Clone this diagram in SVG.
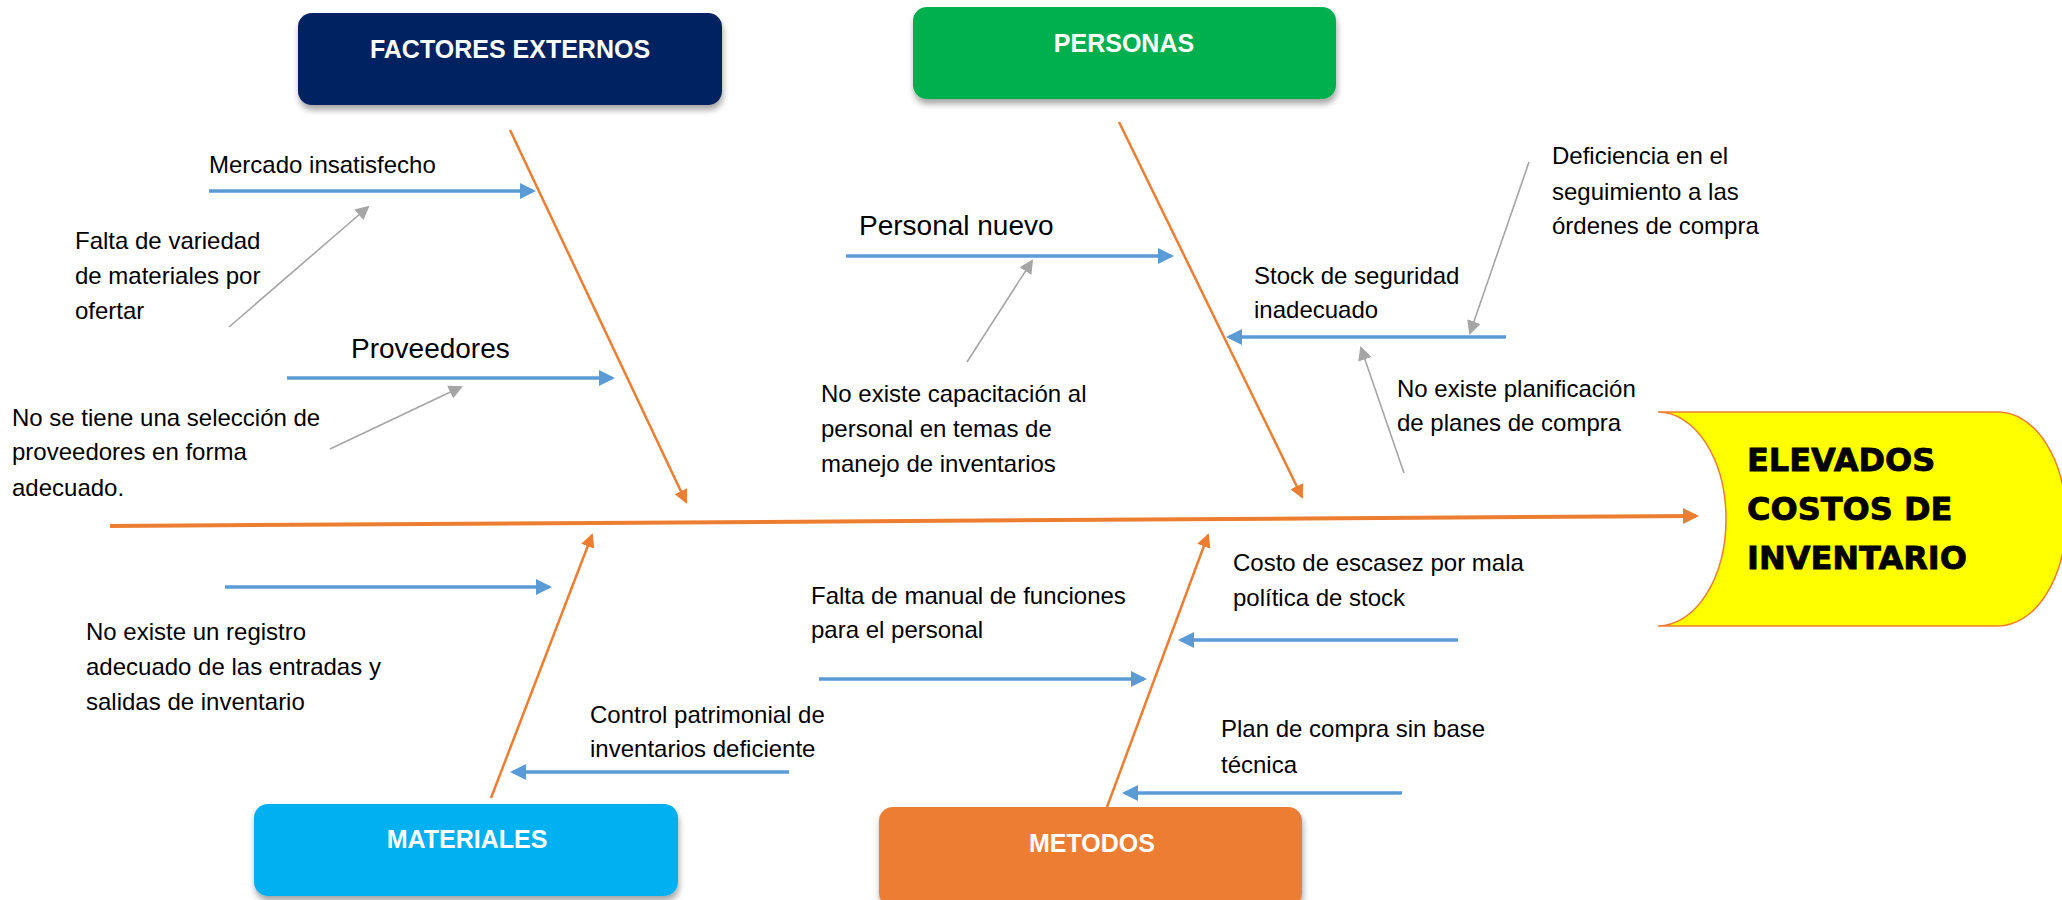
<svg xmlns="http://www.w3.org/2000/svg" width="2062" height="900" viewBox="0 0 2062 900">
<style>
.t{font-family:"Liberation Sans",Arial,sans-serif;font-size:24px;fill:#000}
.tb{font-family:"Liberation Sans",Arial,sans-serif;font-size:28px;fill:#000}
.hd{font-family:"Liberation Sans",Arial,sans-serif;font-size:25px;font-weight:bold;fill:#fff;text-anchor:middle}
.eff{font-family:"DejaVu Sans",Verdana,sans-serif;font-size:32px;font-weight:bold;fill:#000;stroke:#000;stroke-width:0.8}
.or{stroke:#ED7D31;stroke-width:2.5;fill:none;marker-end:url(#ao)}
.bl{stroke:#5B9BD5;stroke-width:3.5;fill:none;marker-end:url(#ab)}
.gr{stroke:#A5A5A5;stroke-width:1.6;fill:none;marker-end:url(#ag)}
</style>
<defs>
<marker id="ab" markerUnits="userSpaceOnUse" viewBox="0 0 16 16" markerWidth="16" markerHeight="16" refX="13" refY="8" orient="auto"><path d="M0,0 L16,8 L0,16 z" fill="#5B9BD5"/></marker>
<marker id="ao" markerUnits="userSpaceOnUse" viewBox="0 0 14 14" markerWidth="14" markerHeight="14" refX="12" refY="7" orient="auto"><path d="M0,0 L14,7 L0,14 z" fill="#ED7D31"/></marker>
<marker id="aos" markerUnits="userSpaceOnUse" viewBox="0 0 16 16" markerWidth="16" markerHeight="16" refX="13" refY="8" orient="auto"><path d="M0,0 L16,8 L0,16 z" fill="#ED7D31"/></marker>
<marker id="ag" markerUnits="userSpaceOnUse" viewBox="0 0 14 14" markerWidth="14" markerHeight="14" refX="12" refY="7" orient="auto"><path d="M0,0 L14,7 L0,14 z" fill="#A5A5A5"/></marker>
<filter id="sh" x="-10%" y="-20%" width="120%" height="150%"><feDropShadow dx="1" dy="5" stdDeviation="3" flood-color="#000" flood-opacity="0.35"/></filter>
</defs>
<rect width="2062" height="900" fill="#fff"/>

<g id="connectors">
<line x1="110" y1="526" x2="1696" y2="516" stroke="#ED7D31" stroke-width="4" marker-end="url(#aos)"/>
<line class="or" x1="510" y1="130" x2="686" y2="502"/>
<line class="or" x1="1119" y1="122" x2="1302" y2="497"/>
<line class="or" x1="491" y1="798" x2="592" y2="535"/>
<line class="or" x1="1107" y1="807" x2="1208" y2="535"/>
<line class="bl" x1="209" y1="191" x2="533" y2="191"/>
<line class="bl" x1="287" y1="378" x2="612" y2="378"/>
<line class="bl" x1="846" y1="256" x2="1171" y2="256"/>
<line class="bl" x1="1506" y1="337" x2="1229" y2="337"/>
<line class="bl" x1="225" y1="587" x2="549" y2="587"/>
<line class="bl" x1="789" y1="772" x2="513" y2="772"/>
<line class="bl" x1="819" y1="679" x2="1144" y2="679"/>
<line class="bl" x1="1458" y1="640" x2="1181" y2="640"/>
<line class="bl" x1="1402" y1="793" x2="1125" y2="793"/>
<line class="gr" x1="229" y1="327" x2="368" y2="207"/>
<line class="gr" x1="330" y1="449" x2="461" y2="387"/>
<line class="gr" x1="967" y1="362" x2="1032" y2="261"/>
<line class="gr" x1="1529" y1="162" x2="1470" y2="333"/>
<line class="gr" x1="1404" y1="473" x2="1361" y2="348"/>
</g>

<g id="factores-externos">
<rect x="298" y="13" width="424" height="92" rx="14" fill="#002060" filter="url(#sh)"/>
<text class="hd" x="510" y="58">FACTORES EXTERNOS</text>
</g>
<g id="personas">
<rect x="913" y="7" width="423" height="92" rx="14" fill="#00B050" filter="url(#sh)"/>
<text class="hd" x="1124" y="52">PERSONAS</text>
</g>
<g id="materiales">
<rect x="254" y="804" width="424" height="92" rx="14" fill="#00B0F0" filter="url(#sh)"/>
<text class="hd" x="467" y="848">MATERIALES</text>
</g>
<g id="metodos">
<rect x="879" y="807" width="423" height="100" rx="14" fill="#ED7D31" filter="url(#sh)"/>
<text class="hd" x="1092" y="852">METODOS</text>
</g>
<g id="efecto">
<path d="M1658,412 L1998,412 A68,107 0 0 1 1998,626 L1658,626 A68,107 0 0 0 1658,412 Z" fill="#FFFF00" stroke="#ED7D31" stroke-width="1.5"/>
<text class="eff" x="1747" y="471">ELEVADOS</text>
<text class="eff" x="1747" y="520">COSTOS DE</text>
<text class="eff" x="1747" y="569">INVENTARIO</text>
</g>

<g id="mercado"><text class="t" x="209" y="173">Mercado insatisfecho</text></g>
<g id="falta-variedad"><text class="t" x="75" y="249">Falta de variedad</text><text class="t" x="75" y="284">de materiales por</text><text class="t" x="75" y="319">ofertar</text></g>
<g id="proveedores"><text class="tb" x="351" y="358">Proveedores</text></g>
<g id="seleccion"><text class="t" x="12" y="426">No se tiene una selección de</text><text class="t" x="12" y="460">proveedores en forma</text><text class="t" x="12" y="496">adecuado.</text></g>
<g id="personal-nuevo"><text class="tb" x="859" y="235">Personal nuevo</text></g>
<g id="capacitacion"><text class="t" x="821" y="402">No existe capacitación al</text><text class="t" x="821" y="437">personal en temas de</text><text class="t" x="821" y="472">manejo de inventarios</text></g>
<g id="stock"><text class="t" x="1254" y="284">Stock de seguridad</text><text class="t" x="1254" y="318">inadecuado</text></g>
<g id="deficiencia"><text class="t" x="1552" y="164">Deficiencia en el</text><text class="t" x="1552" y="200">seguimiento a las</text><text class="t" x="1552" y="234">órdenes de compra</text></g>
<g id="planificacion"><text class="t" x="1397" y="397">No existe planificación</text><text class="t" x="1397" y="431">de planes de compra</text></g>
<g id="registro"><text class="t" x="86" y="640">No existe un registro</text><text class="t" x="86" y="675">adecuado de las entradas y</text><text class="t" x="86" y="710">salidas de inventario</text></g>
<g id="control"><text class="t" x="590" y="723">Control patrimonial de</text><text class="t" x="590" y="757">inventarios deficiente</text></g>
<g id="manual"><text class="t" x="811" y="604">Falta de manual de funciones</text><text class="t" x="811" y="638">para el personal</text></g>
<g id="escasez"><text class="t" x="1233" y="571">Costo de escasez por mala</text><text class="t" x="1233" y="606">política de stock</text></g>
<g id="plan-compra"><text class="t" x="1221" y="737">Plan de compra sin base</text><text class="t" x="1221" y="773">técnica</text></g>
</svg>
